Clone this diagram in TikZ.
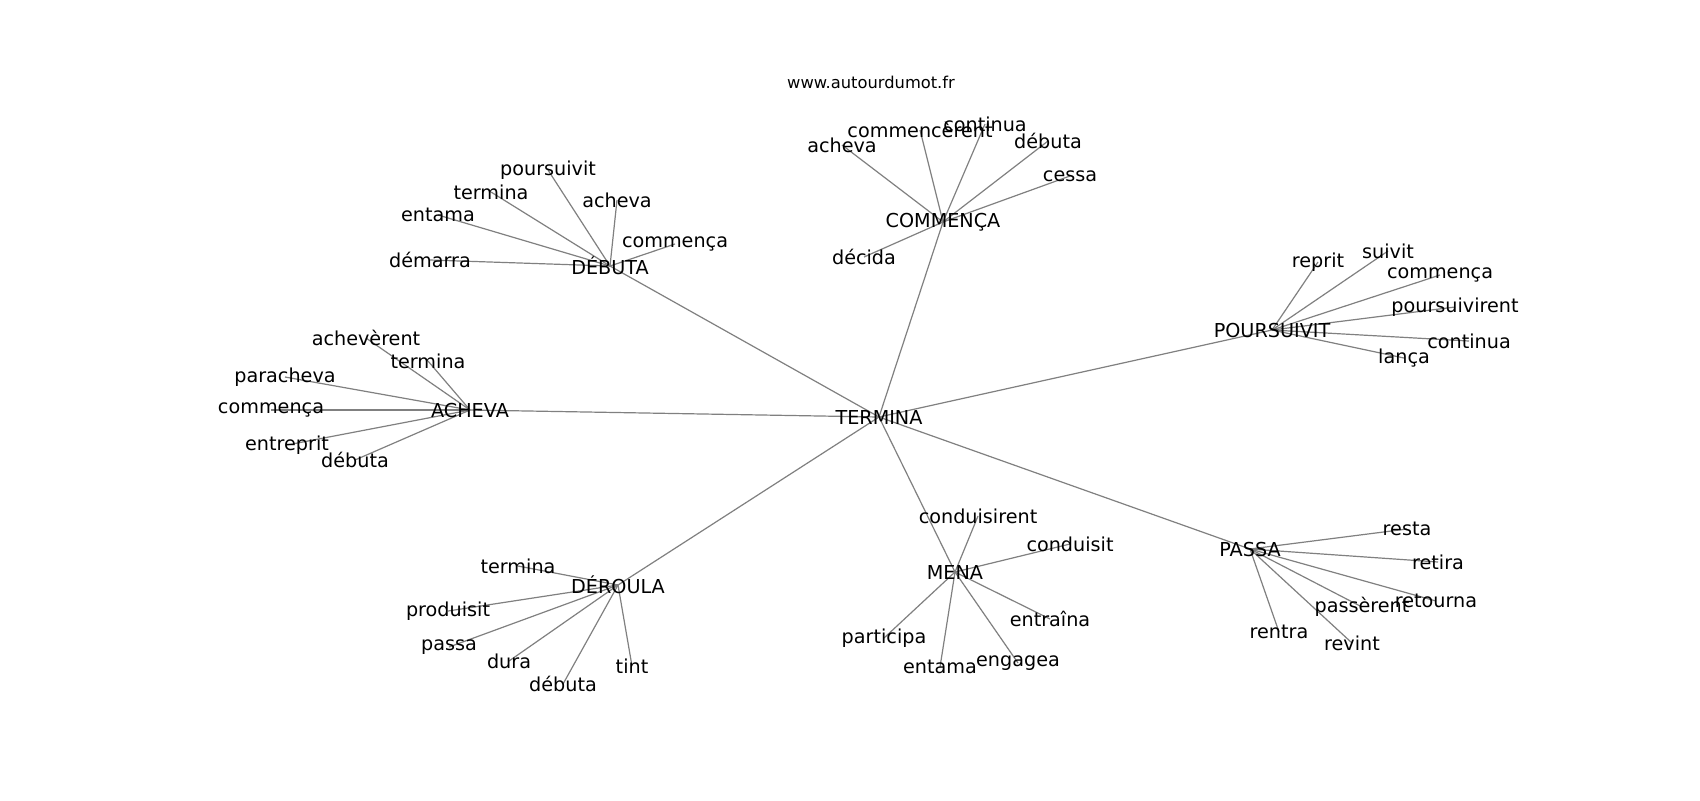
\documentclass[tikz,border=0pt]{standalone}
\usepackage{fontspec}
\setmainfont{DejaVu Sans}
\usetikzlibrary{backgrounds}

\begin{document}
\begin{tikzpicture}[x=0.5pt,y=-0.5pt,
        mot/.style={inner sep=0pt,font=\fontsize{9.6}{11}\selectfont},
        lien/.style={draw=gray,line width=0.6pt}]
        \useasboundingbox (0,0) rectangle (1700,800);

        % Source
        \node[inner sep=0pt,font=\fontsize{8.15}{10}\selectfont] (src) at (871,82) {www.autourdumot.fr};

        % Mot central et voisins
        \node[mot] (ter) at (879,417) {TERMINA};
        \node[mot] (com) at (943,222) {COMMENÇA};
        \node[mot] (deb) at (610,266) {DÉBUTA};
        \node[mot] (ach) at (470,410) {ACHEVA};
        \node[mot] (pou) at (1272,330) {POURSUIVIT};
        \node[mot] (der) at (618,585) {DÉROULA};
        \node[mot] (men) at (955,572) {MENA};
        \node[mot] (pas) at (1250,549) {PASSA};

        % Autour de COMMENÇA
        \node[mot] (com1) at (842,145) {acheva};
        \node[mot] (com2) at (920,130) {commencèrent};
        \node[mot] (com3) at (985,124) {continua};
        \node[mot] (com4) at (1048,141) {débuta};
        \node[mot] (com5) at (1070,176) {cessa};
        \node[mot] (com6) at (864,257) {décida};

        % Autour de DÉBUTA
        \node[mot] (deb1) at (548,170) {poursuivit};
        \node[mot] (deb2) at (491,192) {termina};
        \node[mot] (deb3) at (438,215) {entama};
        \node[mot] (deb4) at (617,200) {acheva};
        \node[mot] (deb5) at (675,244) {commença};
        \node[mot] (deb6) at (430,260) {démarra};

        % Autour de ACHEVA
        \node[mot] (ach1) at (366,338) {achevèrent};
        \node[mot] (ach2) at (428,361) {termina};
        \node[mot] (ach3) at (285,377) {paracheva};
        \node[mot] (ach4) at (271,410) {commença};
        \node[mot] (ach5) at (287,445) {entreprit};
        \node[mot] (ach6) at (355,460) {débuta};

        % Autour de POURSUIVIT
        \node[mot] (pou1) at (1318,262) {reprit};
        \node[mot] (pou2) at (1388,251) {suivit};
        \node[mot] (pou3) at (1440,275) {commença};
        \node[mot] (pou4) at (1455,307) {poursuivirent};
        \node[mot] (pou5) at (1469,341) {continua};
        \node[mot] (pou6) at (1404,358) {lança};

        % Autour de DÉROULA
        \node[mot] (der1) at (518,566) {termina};
        \node[mot] (der2) at (448,611) {produisit};
        \node[mot] (der3) at (449,647) {passa};
        \node[mot] (der4) at (509,661) {dura};
        \node[mot] (der5) at (563,684) {débuta};
        \node[mot] (der6) at (632,666) {tint};

        % Autour de MENA
        \node[mot] (men1) at (978,516) {conduisirent};
        \node[mot] (men2) at (1070,544) {conduisit};
        \node[mot] (men3) at (1050,619) {entraîna};
        \node[mot] (men4) at (884,638) {participa};
        \node[mot] (men5) at (940,667) {entama};
        \node[mot] (men6) at (1018,663) {engagea};

        % Autour de PASSA
        \node[mot] (pas1) at (1407,529) {resta};
        \node[mot] (pas2) at (1438,562) {retira};
        \node[mot] (pas3) at (1436,601) {retourna};
        \node[mot] (pas4) at (1362,607) {passèrent};
        \node[mot] (pas5) at (1279,632) {rentra};
        \node[mot] (pas6) at (1352,643) {revint};

        % Liens (sous les mots)
        \begin{scope}[on background layer]
        \fill[white] (0,0) rectangle (1700,800);
        \foreach \b in {com,deb,ach,pou,der,men,pas}
            \draw[lien] (ter.center) -- (\b.center);
        \foreach \b in {com,deb,ach,pou,der,men,pas}
            \foreach \i in {1,...,6}
                \draw[lien] (\b.center) -- (\b\i.center);
        \end{scope}
    \end{tikzpicture}
\end{document}
